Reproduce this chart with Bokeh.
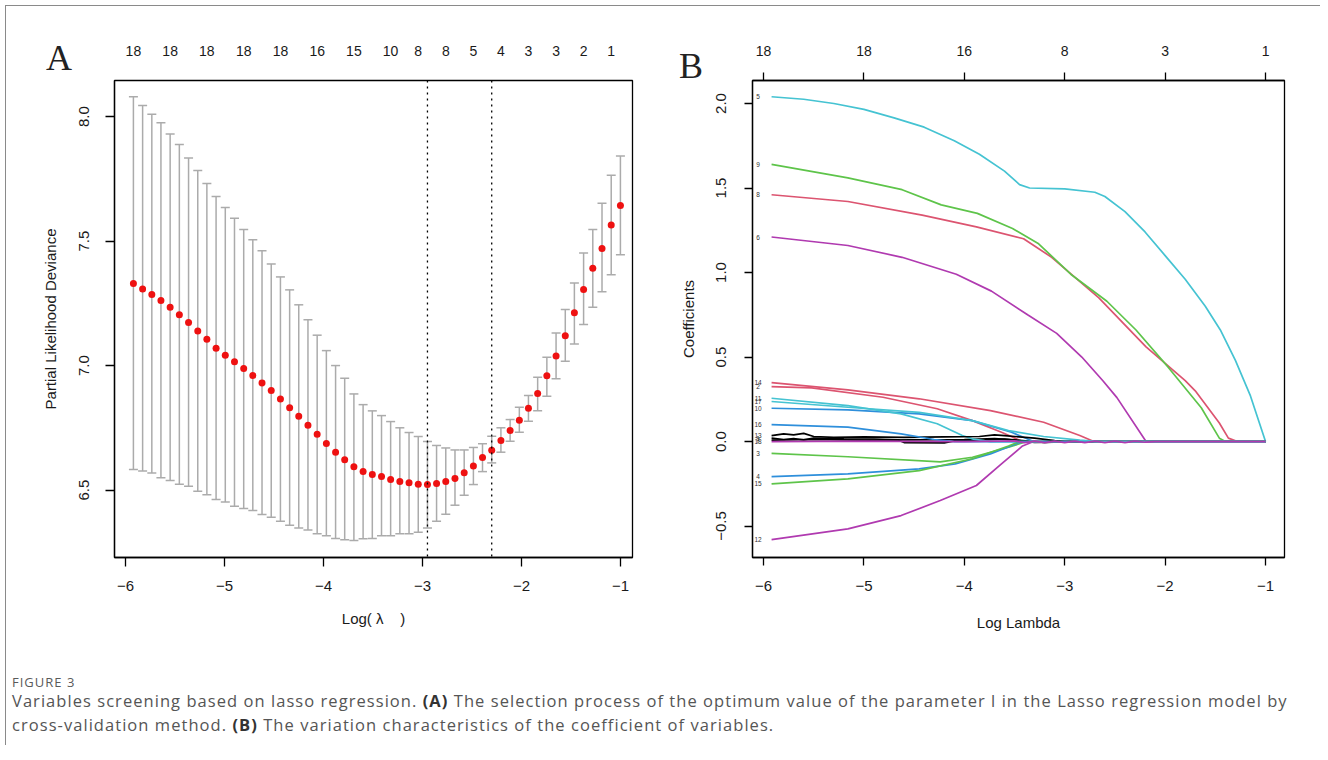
from bokeh.plotting import figure
from bokeh.models import Range1d, FixedTicker, LinearAxis, Span, Div, ColumnDataSource
from bokeh.layouts import row, column
from bokeh.core.properties import value
from bokeh.embed import file_html
from bokeh.resources import INLINE

# ---------------- Panel A data (cv.glmnet) ----------------
log_lambda = [-5.920, -5.827, -5.734, -5.642, -5.549, -5.456, -5.363, -5.270, -5.178, -5.085,
              -4.992, -4.899, -4.806, -4.714, -4.621, -4.528, -4.435, -4.342, -4.250, -4.157,
              -4.064, -3.971, -3.878, -3.786, -3.693, -3.600, -3.507, -3.414, -3.322, -3.229,
              -3.136, -3.043, -2.950, -2.858, -2.765, -2.672, -2.579, -2.486, -2.394, -2.301,
              -2.208, -2.115, -2.022, -1.930, -1.837, -1.744, -1.651, -1.558, -1.466, -1.373,
              -1.280, -1.187, -1.094, -1.001]
cv_mean = [7.330, 7.308, 7.285, 7.261, 7.234, 7.204, 7.173, 7.139, 7.106, 7.070,
           7.041, 7.015, 6.988, 6.960, 6.930, 6.900, 6.866, 6.831, 6.796, 6.760,
           6.724, 6.687, 6.652, 6.622, 6.594, 6.574, 6.562, 6.554, 6.542, 6.534,
           6.529, 6.523, 6.522, 6.526, 6.534, 6.546, 6.569, 6.597, 6.631, 6.660,
           6.699, 6.739, 6.780, 6.829, 6.888, 6.959, 7.038, 7.120, 7.212, 7.305,
           7.391, 7.470, 7.565, 7.643]
cv_upper = [8.080, 8.045, 8.009, 7.975, 7.930, 7.888, 7.834, 7.783, 7.731, 7.679,
            7.635, 7.592, 7.547, 7.505, 7.461, 7.408, 7.356, 7.304, 7.244, 7.184,
            7.122, 7.060, 7.000, 6.949, 6.886, 6.843, 6.818, 6.799, 6.775, 6.750,
            6.731, 6.715, 6.695, 6.679, 6.669, 6.661, 6.661, 6.671, 6.686, 6.716,
            6.750, 6.783, 6.833, 6.880, 6.953, 7.033, 7.131, 7.225, 7.332, 7.452,
            7.547, 7.652, 7.764, 7.842]
cv_lower = [6.582, 6.576, 6.568, 6.549, 6.538, 6.523, 6.515, 6.495, 6.481, 6.462,
            6.452, 6.435, 6.426, 6.418, 6.402, 6.391, 6.375, 6.359, 6.347, 6.339,
            6.324, 6.316, 6.305, 6.300, 6.297, 6.304, 6.305, 6.316, 6.316, 6.324,
            6.324, 6.330, 6.347, 6.375, 6.403, 6.439, 6.479, 6.522, 6.574, 6.609,
            6.652, 6.696, 6.732, 6.776, 6.818, 6.877, 6.947, 7.017, 7.087, 7.165,
            7.234, 7.296, 7.365, 7.445]
idx_min = 32
idx_1se = 39
top_idx_a = [0, 4, 8, 12, 16, 20, 24, 28, 31, 34, 37, 40, 43, 46, 49, 52]
top_labels_a = ["18", "18", "18", "18", "18", "16", "15", "10", "8", "8", "5", "4", "3", "3", "2", "1"]
x_ticks = [-6, -5, -4, -3, -2, -1]
y_ticks_a = [6.5, 7.0, 7.5, 8.0]

# ---------------- Panel B data (coefficient paths) ----------------
top_labels_b = ["18", "18", "16", "8", "3", "1"]
y_ticks_b = [-0.5, 0.0, 0.5, 1.0, 1.5, 2.0]
path_1 = [(-5.92, 0.020), (-5.80, 0.012), (-5.70, 0.018), (-5.60, 0.010), (-5.50, 0.020), (-5.20, 0.016),
          (-4.90, 0.015), (-4.66, 0.010), (-4.60, -0.006), (-4.20, -0.008), (-4.10, 0.004), (-3.80, 0.010),
          (-3.60, 0.015), (-3.45, 0.004), (-3.30, -0.005), (-3.10, -0.004), (-2.95, 0.0), (-1.0, 0.0)]
path_2 = [(-5.92, 0.325), (-5.52, 0.318), (-4.81, 0.262), (-4.27, 0.194), (-3.92, 0.124), (-3.63, 0.055),
          (-3.42, 0.0), (-1.0, 0.0)]
path_3 = [(-5.92, -0.070), (-5.16, -0.090), (-4.24, -0.120), (-3.92, -0.093), (-3.56, -0.034), (-3.38, 0.0),
          (-1.0, 0.0)]
path_4 = [(-5.92, -0.207), (-5.16, -0.191), (-4.45, -0.162), (-4.09, -0.132), (-3.74, -0.073), (-3.45, -0.006),
          (-3.38, 0.0), (-1.0, 0.0)]
path_5 = [(-5.92, 2.04), (-5.60, 2.025), (-5.30, 2.00), (-5.00, 1.965), (-4.70, 1.915), (-4.40, 1.86),
          (-4.10, 1.78), (-3.85, 1.70), (-3.60, 1.60), (-3.45, 1.52), (-3.35, 1.50), (-3.00, 1.495),
          (-2.70, 1.475), (-2.60, 1.45), (-2.40, 1.36), (-2.20, 1.24), (-2.00, 1.10), (-1.80, 0.96),
          (-1.60, 0.80), (-1.45, 0.66), (-1.30, 0.48), (-1.15, 0.27), (-1.0, 0.0)]
path_6 = [(-5.92, 1.21), (-5.16, 1.16), (-4.62, 1.09), (-4.08, 0.99), (-3.73, 0.89), (-3.37, 0.75),
          (-3.08, 0.64), (-2.83, 0.50), (-2.62, 0.36), (-2.48, 0.26), (-2.19, 0.0), (-1.0, 0.0)]
path_7 = [(-5.92, 0.008), (-5.50, 0.012), (-5.00, 0.008), (-4.50, 0.010), (-4.00, 0.012), (-3.70, 0.018),
          (-3.50, 0.010), (-3.30, 0.0), (-3.20, -0.005), (-3.00, 0.0), (-1.0, 0.0)]
path_8 = [(-5.92, 1.46), (-5.16, 1.42), (-4.42, 1.34), (-3.88, 1.27), (-3.41, 1.20), (-3.13, 1.09),
          (-2.66, 0.85), (-2.19, 0.56), (-1.80, 0.36), (-1.70, 0.30), (-1.46, 0.11), (-1.37, 0.02),
          (-1.28, 0.0), (-1.0, 0.0)]
path_9 = [(-5.92, 1.64), (-5.16, 1.56), (-4.62, 1.49), (-4.23, 1.40), (-3.87, 1.35), (-3.52, 1.26),
          (-3.26, 1.17), (-2.94, 0.99), (-2.58, 0.83), (-2.29, 0.66), (-1.97, 0.44), (-1.64, 0.20),
          (-1.46, 0.02), (-1.40, 0.0), (-1.0, 0.0)]
path_10 = [(-5.92, 0.197), (-5.16, 0.187), (-4.45, 0.164), (-3.92, 0.124), (-3.53, 0.055), (-3.31, 0.0),
           (-1.0, 0.0)]
path_11 = [(-5.92, 0.256), (-5.16, 0.213), (-4.63, 0.164), (-4.27, 0.105), (-4.02, 0.036), (-3.91, 0.014),
           (-3.74, 0.0), (-1.0, 0.0)]
path_12 = [(-5.92, -0.58), (-5.16, -0.517), (-4.63, -0.438), (-4.24, -0.349), (-3.88, -0.26), (-3.63, -0.132),
           (-3.42, -0.026), (-3.31, 0.0), (-1.0, 0.0)]
path_13 = [(-5.92, 0.035), (-5.80, 0.045), (-5.70, 0.040), (-5.60, 0.048), (-5.50, 0.030), (-5.30, 0.025),
           (-5.00, 0.028), (-4.60, 0.025), (-4.20, 0.028), (-3.85, 0.030), (-3.70, 0.040), (-3.60, 0.035),
           (-3.50, 0.030), (-3.30, 0.020), (-3.10, 0.006), (-3.00, 0.0), (-1.0, 0.0)]
path_14 = [(-5.92, 0.349), (-5.16, 0.306), (-4.45, 0.253), (-3.74, 0.183), (-3.21, 0.114), (-2.85, 0.036),
           (-2.71, 0.0), (-1.0, 0.0)]
path_15 = [(-5.92, -0.25), (-5.16, -0.221), (-4.45, -0.172), (-3.92, -0.102), (-3.56, -0.026), (-3.45, 0.0),
           (-1.0, 0.0)]
path_16 = [(-5.92, 0.10), (-5.16, 0.085), (-4.63, 0.045), (-4.30, 0.012), (-4.10, 0.0), (-1.0, 0.0)]
path_17 = [(-5.92, 0.237), (-5.16, 0.203), (-4.45, 0.173), (-3.92, 0.124), (-3.56, 0.065), (-3.21, 0.030),
           (-2.85, 0.008), (-2.67, 0.0), (-1.0, 0.0)]
path_18 = [(-5.92, 0.0), (-5.00, 0.002), (-4.00, 0.0), (-3.50, 0.004), (-3.40, -0.006), (-3.30, 0.003),
           (-3.20, -0.006), (-3.10, 0.002), (-3.00, -0.006), (-2.90, 0.002), (-2.80, -0.006), (-2.70, 0.002),
           (-2.60, -0.006), (-2.50, 0.002), (-2.40, -0.006), (-2.30, 0.002), (-2.20, -0.004), (-2.10, 0.0),
           (-1.0, 0.0)]
paths = [path_1, path_2, path_3, path_4, path_5, path_6, path_7, path_8, path_9,
         path_10, path_11, path_12, path_13, path_14, path_15, path_16, path_17, path_18]
var_labels = [str(i) for i in range(1, 19)]

# ---------------- styling ----------------
FONT = "Liberation Sans"
palette = ["#000000", "#DC5470", "#5EC44A", "#2E8FDB", "#45C3D2", "#B03AB0"]
MINUS = "\u2212"


def fmt(v, dec):
    s = f"{abs(v):.{dec}f}"
    return (MINUS + s) if v < 0 else s


def style_axis(ax, tick_out=8, standoff=10, title_standoff=20):
    ax.major_tick_out = tick_out
    ax.major_tick_in = 0
    ax.minor_tick_out = 0
    ax.minor_tick_in = 0
    ax.minor_tick_line_color = None
    ax.major_tick_line_color = "black"
    ax.major_tick_line_width = 1.3
    ax.axis_line_color = "black"
    ax.axis_line_width = 1.3
    ax.major_label_text_font = FONT
    ax.major_label_text_font_size = "15px"
    ax.major_label_text_color = "#1a1a1a"
    ax.major_label_standoff = standoff
    ax.axis_label_text_font = FONT
    ax.axis_label_text_font_style = "normal"
    ax.axis_label_text_font_size = "15px"
    ax.axis_label_text_color = "#1a1a1a"
    ax.axis_label_standoff = title_standoff


# ---------------- Panel A ----------------
pA = figure(width=664, height=639, x_range=Range1d(-6.111, -0.879), y_range=Range1d(6.229, 8.145),
            output_backend="svg", toolbar_location=None,
            min_border_left=108, min_border_right=38, min_border_top=74, min_border_bottom=88)
pA.grid.visible = False
pA.outline_line_color = "black"
pA.outline_line_width = 1.3
pA.background_fill_color = "white"
pA.border_fill_color = None

pA.xaxis.ticker = FixedTicker(ticks=x_ticks)
pA.xaxis.major_label_overrides = {t: fmt(t, 0) for t in x_ticks}
pA.xaxis.axis_label = "Log(\u00a0\u03bb\u00a0\u00a0\u00a0\u00a0)"
style_axis(pA.xaxis[0], tick_out=9, standoff=14, title_standoff=16)
pA.yaxis.ticker = FixedTicker(ticks=y_ticks_a)
pA.yaxis.major_label_overrides = {t: fmt(t, 1) for t in y_ticks_a}
pA.yaxis.major_label_orientation = "parallel"
pA.yaxis.axis_label = "Partial Likelihood Deviance"
style_axis(pA.yaxis[0], tick_out=9, standoff=16, title_standoff=18)

top_pos_a = [log_lambda[i] for i in top_idx_a]
topA = LinearAxis(ticker=FixedTicker(ticks=top_pos_a),
                  major_label_overrides={p: l for p, l in zip(top_pos_a, top_labels_a)})
style_axis(topA, tick_out=0, standoff=25)
topA.major_tick_line_color = None
topA.axis_line_color = None
topA.major_label_text_font_size = "14px"
pA.add_layout(topA, "above")

srcA = ColumnDataSource(dict(x=log_lambda, m=cv_mean, hi=cv_upper, lo=cv_lower))
pA.segment(x0="x", y0="lo", x1="x", y1="hi", source=srcA, line_color="#ABABAB", line_width=1.5)
pA.scatter(x="x", y="hi", source=srcA, marker="dash", size=9, line_color="#ABABAB", line_width=1.5)
pA.scatter(x="x", y="lo", source=srcA, marker="dash", size=9, line_color="#ABABAB", line_width=1.5)
pA.scatter(x="x", y="m", source=srcA, size=7, fill_color="#EE1111", line_color=None)
for idx in (idx_min, idx_1se):
    pA.add_layout(Span(location=log_lambda[idx], dimension="height", line_color="black",
                       line_width=1.3, line_dash="2 4"))

# ---------------- Panel B ----------------
pB = figure(width=650, height=639, x_range=Range1d(-6.11, -0.811), y_range=Range1d(-0.686, 2.136),
            output_backend="svg", toolbar_location=None,
            min_border_left=82, min_border_right=36, min_border_top=74, min_border_bottom=88)
pB.grid.visible = False
pB.outline_line_color = "black"
pB.outline_line_width = 1.3
pB.border_fill_color = None

pB.xaxis.ticker = FixedTicker(ticks=x_ticks)
pB.xaxis.major_label_overrides = {t: fmt(t, 0) for t in x_ticks}
pB.xaxis.axis_label = "Log Lambda"
style_axis(pB.xaxis[0], tick_out=8, standoff=15, title_standoff=20)
pB.yaxis.ticker = FixedTicker(ticks=y_ticks_b)
pB.yaxis.major_label_overrides = {t: fmt(t, 1) for t in y_ticks_b}
pB.yaxis.major_label_orientation = "parallel"
pB.yaxis.axis_label = "Coefficients"
style_axis(pB.yaxis[0], tick_out=8, standoff=18, title_standoff=17)

topB = LinearAxis(ticker=FixedTicker(ticks=x_ticks),
                  major_label_overrides={t: l for t, l in zip(x_ticks, top_labels_b)})
style_axis(topB, tick_out=8, standoff=17)
topB.major_label_text_font_size = "14px"
pB.add_layout(topB, "above")

for i, path in enumerate(paths):
    xs = [pt[0] for pt in path]
    ys = [pt[1] for pt in path]
    pB.line(xs, ys, line_color=palette[i % 6], line_width=1.7)

lab_src = ColumnDataSource(dict(x=[-6.055] * len(paths), y=[pth[0][1] for pth in paths], t=var_labels))
pB.text(x="x", y="y", text="t", source=lab_src, text_font=value(FONT), text_font_size="6.5px",
        text_align="center", text_baseline="middle", text_color="#333333")

# ---------------- panel letters (absolutely positioned over the plots) ----------------
letter_css = "font-family:'Liberation Serif',serif;font-size:36px;line-height:40px;color:#222;"
letterA = Div(text=f'<div style="{letter_css}">A</div>', width=30, height=40, margin=0,
              styles={"position": "absolute", "left": "40px", "top": "32px", "z-index": "10"})
letterB = Div(text=f'<div style="{letter_css}">B</div>', width=30, height=40, margin=0,
              styles={"position": "absolute", "left": "673px", "top": "40px", "z-index": "10"})

# ---------------- caption ----------------
caption = Div(width=1314, height=100, margin=0, text="""
<div style="font-family:'Open Sans',sans-serif;color:#555;padding-left:6px;padding-top:30px;">
<div style="font-size:13px;line-height:14px;letter-spacing:1px;color:#5a5a5a;">FIGURE 3</div>
<div style="font-size:16.5px;line-height:24px;letter-spacing:1.05px;white-space:nowrap;margin-top:0px;">Variables screening based on lasso regression. <b style="color:#333">(A)</b> The selection process of the optimum value of the parameter l in the Lasso regression model by</div>
<div style="font-size:16.5px;line-height:24px;letter-spacing:1.05px;white-space:nowrap;">cross-validation method. <b style="color:#333">(B)</b> The variation characteristics of the coefficient of variables.</div>
</div>
""")

layout = column(letterA, letterB, row(pA, pB), caption,
                styles={"position": "relative", "margin-left": "5px", "margin-top": "5px",
                        "border-top": "1px solid #8a8a8a", "border-left": "1px solid #8a8a8a"})

open("out.html", "w").write(file_html(layout, INLINE))
